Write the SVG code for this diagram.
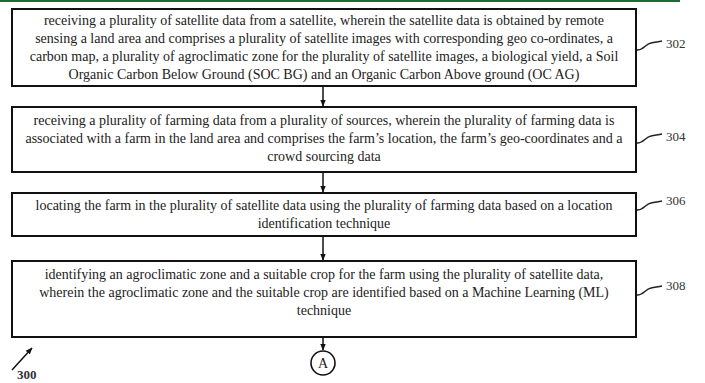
<svg xmlns="http://www.w3.org/2000/svg" width="705" height="383" viewBox="0 0 705 383">
<style>
.box{fill:#fff;stroke:#111;stroke-width:2}
.t{font-family:"Liberation Serif","Times New Roman","DejaVu Serif",serif;font-size:14px;fill:#222;text-anchor:middle}
.lbl{font-family:"Liberation Serif","Times New Roman","DejaVu Serif",serif;font-size:13px;fill:#333}
.sq{fill:none;stroke:#222;stroke-width:1.4}
.con{stroke:#111;stroke-width:1.5;fill:none}
</style>
<defs>
<marker id="ah" viewBox="0 0 10 10" refX="9" refY="5" markerWidth="7" markerHeight="7" orient="auto" markerUnits="userSpaceOnUse">
<path d="M0,1 L10,5 L0,9 z" fill="#111"/>
</marker>
</defs>
<rect x="0" y="0" width="705" height="383" fill="#fff"/>
<rect x="0" y="0" width="680" height="2" fill="#1e6b2e"/>

<g id="node302">
<rect class="box" x="12" y="9" width="624" height="77"/>
<text class="t" x="324" y="25">receiving a plurality of satellite data from a satellite, wherein the satellite data is obtained by remote</text>
<text class="t" x="324" y="43">sensing a land area and comprises a plurality of satellite images with corresponding geo co-ordinates, a</text>
<text class="t" x="324" y="61">carbon map, a plurality of agroclimatic zone for the plurality of satellite images, a biological yield, a Soil</text>
<text class="t" x="324" y="79">Organic Carbon Below Ground (SOC BG) and an Organic Carbon Above ground (OC AG)</text>
<path class="sq" d="M637,50 C644,50 645,44 651,43 C655,42 658,42 662,41"/>
<text class="lbl" x="666" y="48">302</text>
</g>

<g id="node304">
<rect class="box" x="12" y="107" width="624" height="65"/>
<text class="t" x="324" y="125">receiving a plurality of farming data from a plurality of sources, wherein the plurality of farming data is</text>
<text class="t" x="324" y="143">associated with a farm in the land area and comprises the farm’s location, the farm’s geo-coordinates and a</text>
<text class="t" x="324" y="161">crowd sourcing data</text>
<path class="sq" d="M637,143 C644,143 645,137 651,136 C655,135 658,135 662,134"/>
<text class="lbl" x="666" y="141">304</text>
</g>

<g id="node306">
<rect class="box" x="12" y="193" width="624" height="43"/>
<text class="t" x="324" y="210">locating the farm in the plurality of satellite data using the plurality of farming data based on a location</text>
<text class="t" x="324" y="228">identification technique</text>
<path class="sq" d="M637,210 C644,210 645,204 651,203 C655,202 658,202 662,201"/>
<text class="lbl" x="666" y="205">306</text>
</g>

<g id="node308">
<rect class="box" x="12" y="261" width="624" height="76"/>
<text class="t" x="324" y="279">identifying an agroclimatic zone and a suitable crop for the farm using the plurality of satellite data,</text>
<text class="t" x="324" y="297">wherein the agroclimatic zone and the suitable crop are identified based on a Machine Learning (ML)</text>
<text class="t" x="324" y="315">technique</text>
<path class="sq" d="M637,295 C644,295 645,289 651,288 C655,287 658,287 662,286"/>
<text class="lbl" x="666" y="290">308</text>
</g>

<g id="nodeA">
<circle cx="323" cy="363" r="12" fill="#fff" stroke="#111" stroke-width="1.6"/>
<text class="t" x="323" y="368">A</text>
</g>

<g id="connectors">
<line class="con" x1="323" y1="87" x2="323" y2="106" marker-end="url(#ah)"/>
<line class="con" x1="323" y1="173" x2="323" y2="192" marker-end="url(#ah)"/>
<line class="con" x1="323" y1="237" x2="323" y2="260" marker-end="url(#ah)"/>
<line class="con" x1="323" y1="338" x2="323" y2="350" marker-end="url(#ah)"/>
</g>

<g id="ref300">
<line class="con" x1="12" y1="370" x2="32" y2="348" marker-end="url(#ah)"/>
<text class="lbl" x="17" y="379" font-weight="bold" font-size="10">300</text>
</g>
</svg>
